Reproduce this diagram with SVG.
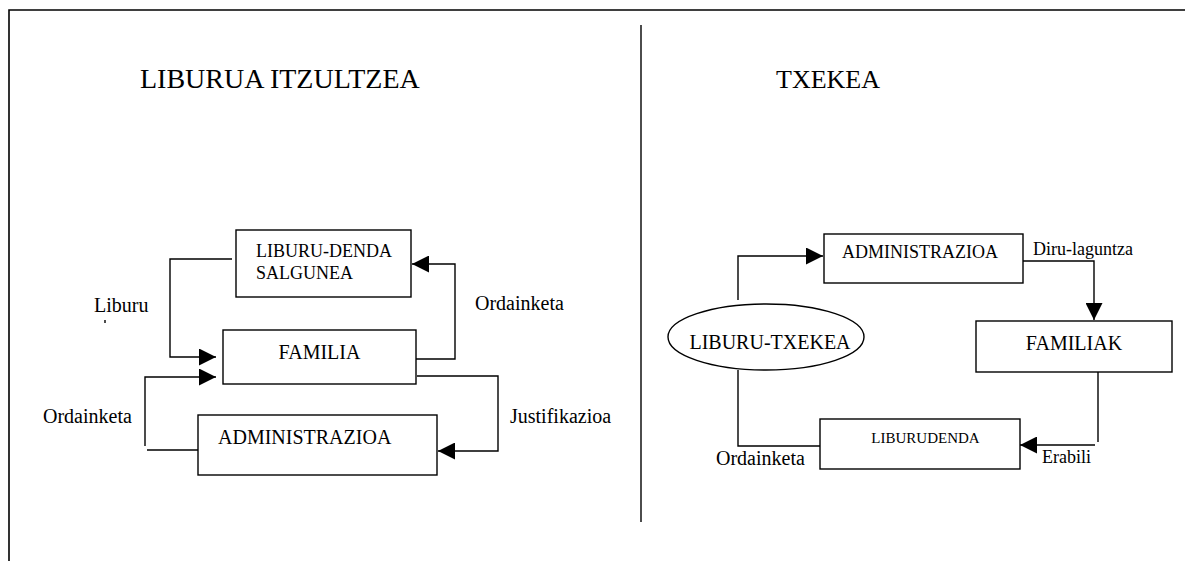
<svg xmlns="http://www.w3.org/2000/svg" width="1185" height="561" viewBox="0 0 1185 561">
<style>
text{font-family:"Liberation Serif","Times New Roman",serif;fill:#000}
.box{fill:#fff;stroke:#000;stroke-width:1.4}
.ln{fill:none;stroke:#000;stroke-width:1.4}
.frame{fill:none;stroke:#000;stroke-width:1.6}
.t20{font-size:20px}
.t18{font-size:18px}
</style>
<defs>
<marker id="ah" markerUnits="userSpaceOnUse" markerWidth="17" markerHeight="17" viewBox="0 0 16 16" refX="16" refY="8" orient="auto">
<path d="M0,0 L16,8 L0,16 Z" fill="#000"/>
</marker>
</defs>
<rect width="1185" height="561" fill="#fff"/>
<g id="frame">
<path class="frame" d="M1185,10 H9 V561"/>
<line class="ln" x1="641" y1="25" x2="641" y2="522"/>
</g>
<g id="titles">
<text x="140" y="88" font-size="28">LIBURUA ITZULTZEA</text>
<text x="776" y="88" font-size="26">TXEKEA</text>
</g>
<g id="connectors">
<path class="ln" d="M232,259 H170 V357 H216" marker-end="url(#ah)"/>
<path class="ln" d="M145,446 V377 H216" marker-end="url(#ah)"/>
<path class="ln" d="M147,450 H198"/>
<path class="ln" d="M416,359 H455 V264 H412" marker-end="url(#ah)"/>
<path class="ln" d="M417,376 H498 V451 H438" marker-end="url(#ah)"/>
<path class="ln" d="M738,300 V256 H823" marker-end="url(#ah)"/>
<path class="ln" d="M1023,261 H1094 V320" marker-end="url(#ah)"/>
<path class="ln" d="M738,370 V446 H820"/>
<path class="ln" d="M1098,372 V442"/>
<path class="ln" d="M1095,445 H1020" marker-end="url(#ah)"/>
<line class="ln" x1="105" y1="320" x2="105" y2="323"/>
</g>
<g id="labels">
<text class="t20" x="94" y="312">Liburu</text>
<text class="t20" x="43" y="423">Ordainketa</text>
<text class="t20" x="475" y="310">Ordainketa</text>
<text class="t20" x="510" y="423">Justifikazioa</text>
<text class="t18" x="1033" y="255">Diru-laguntza</text>
<text class="t20" x="716" y="465">Ordainketa</text>
<text class="t18" x="1042" y="463">Erabili</text>
</g>
<g id="node-liburu-denda">
<rect class="box" x="236" y="230" width="175" height="67"/>
<text class="t18" x="256" y="257">LIBURU-DENDA</text>
<text class="t18" x="256" y="279">SALGUNEA</text>
</g>
<g id="node-familia">
<rect class="box" x="223" y="330" width="193" height="54"/>
<text class="t20" x="319.5" y="359" text-anchor="middle">FAMILIA</text>
</g>
<g id="node-administrazioa-left">
<rect class="box" x="198" y="415" width="239" height="60"/>
<text class="t20" x="218" y="444">ADMINISTRAZIOA</text>
</g>
<g id="node-administrazioa-right">
<rect class="box" x="824" y="234" width="199" height="49"/>
<text class="t18" x="842" y="258">ADMINISTRAZIOA</text>
</g>
<g id="node-liburu-txekea">
<ellipse class="box" cx="766" cy="337" rx="98" ry="33"/>
<text class="t20" x="770" y="349" text-anchor="middle">LIBURU-TXEKEA</text>
</g>
<g id="node-familiak">
<rect class="box" x="976" y="321" width="196" height="51"/>
<text class="t20" x="1074" y="350" text-anchor="middle">FAMILIAK</text>
</g>
<g id="node-liburudenda">
<rect class="box" x="820" y="419" width="200" height="50"/>
<text x="925.5" y="443" font-size="15" text-anchor="middle">LIBURUDENDA</text>
</g>
</svg>
